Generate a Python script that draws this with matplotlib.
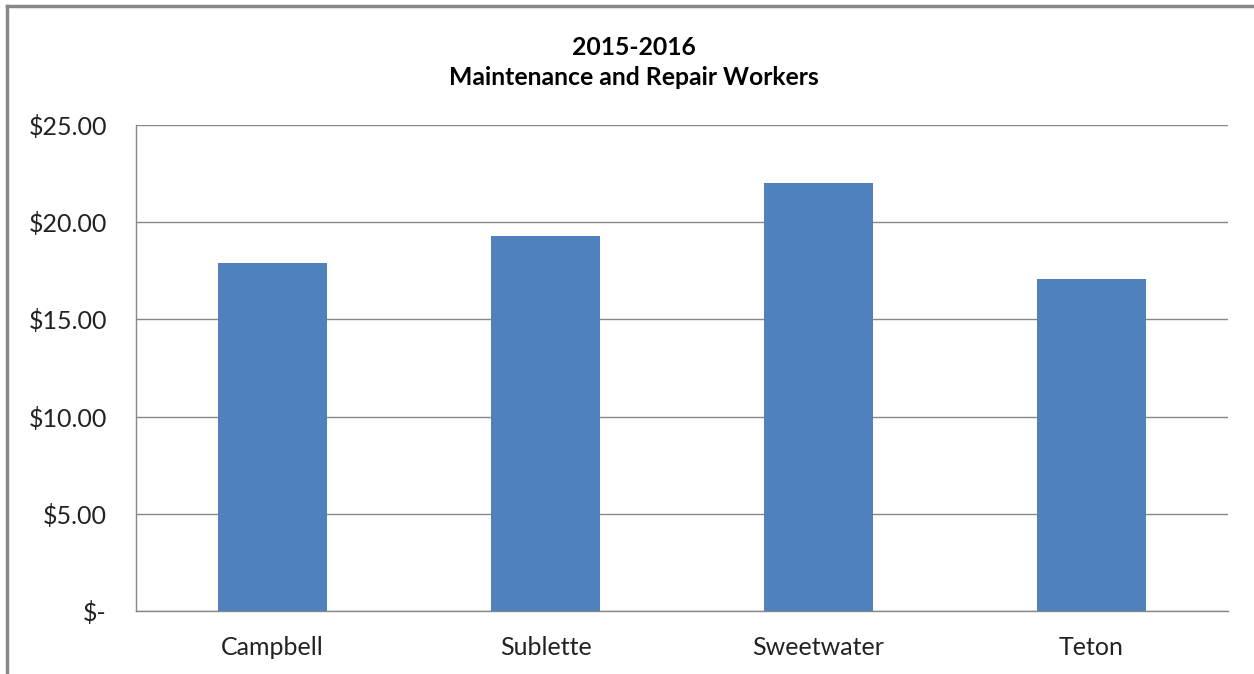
import matplotlib.pyplot as plt
from matplotlib.lines import Line2D

counties = ['Campbell', 'Sublette', 'Sweetwater', 'Teton']
wages = [17.90, 19.30, 22.02, 17.08]
yticks = [0, 5, 10, 15, 20, 25]
ytick_labels = ['$-', '$5.00', '$10.00', '$15.00', '$20.00', '$25.00']

plt.rcParams['font.family'] = ['Lato', 'DejaVu Sans']

fig = plt.figure(figsize=(12.54, 6.74), dpi=100)
ax = fig.add_axes([0.1085, 0.0935, 0.8708, 0.721])

ax.bar(range(len(counties)), wages, width=0.4, color='#4f81bd', zorder=3)
ax.set_xlim(-0.5, len(counties) - 0.5)
ax.set_ylim(0, 25)
ax.set_yticks(yticks)
ax.set_yticklabels(ytick_labels, fontsize=18)
ax.set_xticks(range(len(counties)))
ax.set_xticklabels(counties, fontsize=18)
ax.tick_params(axis='both', length=0, colors='#222222')
ax.tick_params(axis='y', pad=21)
ax.tick_params(axis='x', pad=18)
ax.grid(axis='y', color='#888888', linewidth=1, zorder=0)

for s in ['top', 'right']:
    ax.spines[s].set_visible(False)
for s in ['left', 'bottom']:
    ax.spines[s].set_color('#888888')
    ax.spines[s].set_linewidth(1)

fig.text(0.5055, 0.907, '2015-2016\nMaintenance and Repair Workers', ha='center', va='center',
         fontsize=17.8, fontweight='bold', linespacing=1.35)

# outer chart border (left and top edges only visible)
fig.add_artist(Line2D([7 / 1254, 7 / 1254], [0, 1 - 6 / 674], transform=fig.transFigure,
                      color='#888888', linewidth=2.5))
fig.add_artist(Line2D([7 / 1254, 1], [1 - 6 / 674, 1 - 6 / 674], transform=fig.transFigure,
                      color='#888888', linewidth=2.5))

fig.savefig('out.png', dpi=100)
